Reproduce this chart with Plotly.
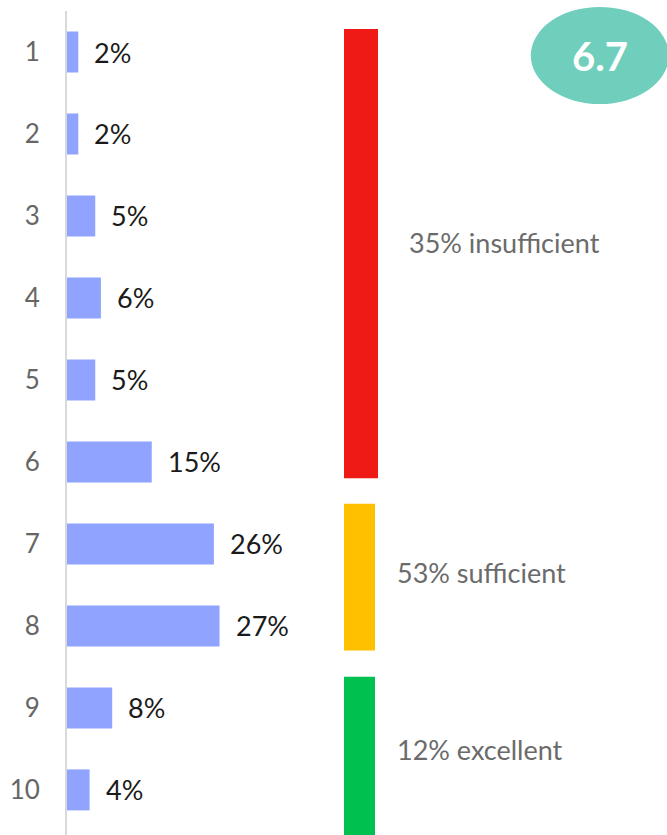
import plotly.graph_objects as go

# Score distribution (share of respondents per score, %)
scores = [1, 2, 3, 4, 5, 6, 7, 8, 9, 10]
shares = [2, 2, 5, 6, 5, 15, 26, 27, 8, 4]

# Rating bands: which scores belong to each band and the band's vertical extent (score units)
band_names = ["insufficient", "sufficient", "excellent"]
band_scores = [[1, 2, 3, 4, 5, 6], [7, 8], [9, 10]]
band_start = [0.72, 6.51, 8.62]
band_end = [6.2, 8.3, 10.6]
band_colors = ["#EF1A15", "#FFC000", "#00C050"]

FONT = "Lato"
BAR_COLOR = "#8FA3FF"

share_of = dict(zip(scores, shares))
band_totals = [sum(share_of[s] for s in grp) for grp in band_scores]
mean_score = sum(s * p for s, p in zip(scores, shares)) / sum(shares)

fig = go.Figure()

# Score bars
fig.add_trace(go.Bar(
    y=scores, x=shares, orientation="h", width=0.5,
    marker=dict(color=BAR_COLOR, line=dict(width=0)),
    hoverinfo="skip", showlegend=False,
))

# Band columns on an overlaid horizontal axis
band_x = [294, 292.5, 292.5]
band_w = [34, 31, 31]
fig.add_trace(go.Bar(
    x=band_x, y=[e - s for s, e in zip(band_start, band_end)], base=band_start,
    width=band_w, orientation="v", xaxis="x2", yaxis="y",
    marker=dict(color=band_colors, line=dict(width=0)),
    hoverinfo="skip", showlegend=False,
))

annotations = []
for s, p in zip(scores, shares):
    annotations.append(dict(
        x=p, y=s, xref="x", yref="y", text=f"{p}%", showarrow=False,
        xanchor="left", yanchor="middle", xshift=14,
        font=dict(family=FONT, size=27, color="#1a1a1a"),
    ))

label_x = [340, 328, 328]
label_dy = [-0.14, -0.06, -0.08]
for name, tot, s, e, lx, dy in zip(band_names, band_totals, band_start, band_end, label_x, label_dy):
    annotations.append(dict(
        x=lx, y=(s + min(e, 10.55)) / 2 + dy, xref="x2", yref="y",
        text=f"{tot}% {name}", showarrow=False, xanchor="left", yanchor="middle",
        font=dict(family=FONT, size=27, color="#6b6b6b"),
    ))

# Average score badge
annotations.append(dict(
    x=0.888, y=0.945, xref="paper", yref="paper", text=f"<b>{mean_score:.1f}</b>",
    showarrow=False, xanchor="center", yanchor="middle",
    font=dict(family=FONT, size=40, color="white"),
))

fig.update_layout(
    width=667, height=835,
    margin=dict(l=67, r=0, t=11, b=0),
    paper_bgcolor="white", plot_bgcolor="white",
    bargap=0.5,
    xaxis=dict(range=[0, 106.2], visible=False, fixedrange=True),
    xaxis2=dict(range=[0, 600], overlaying="x", visible=False, fixedrange=True),
    yaxis=dict(
        range=[10.55, 0.5], tickmode="array", tickvals=scores,
        ticktext=[str(s) for s in scores], showgrid=False, zeroline=False,
        showline=True, linecolor="#d9d9d9", linewidth=2, ticks="",
        ticklabelstandoff=20,
        tickfont=dict(family=FONT, size=26, color="#666666"),
    ),
    shapes=[dict(
        type="circle", xref="paper", yref="paper",
        x0=0.773, x1=1.003, y0=0.887, y1=1.005,
        fillcolor="#6FCFBC", line=dict(width=0), layer="above",
    )],
    annotations=annotations,
    font=dict(family=FONT),
)

fig.write_html("out.html")
